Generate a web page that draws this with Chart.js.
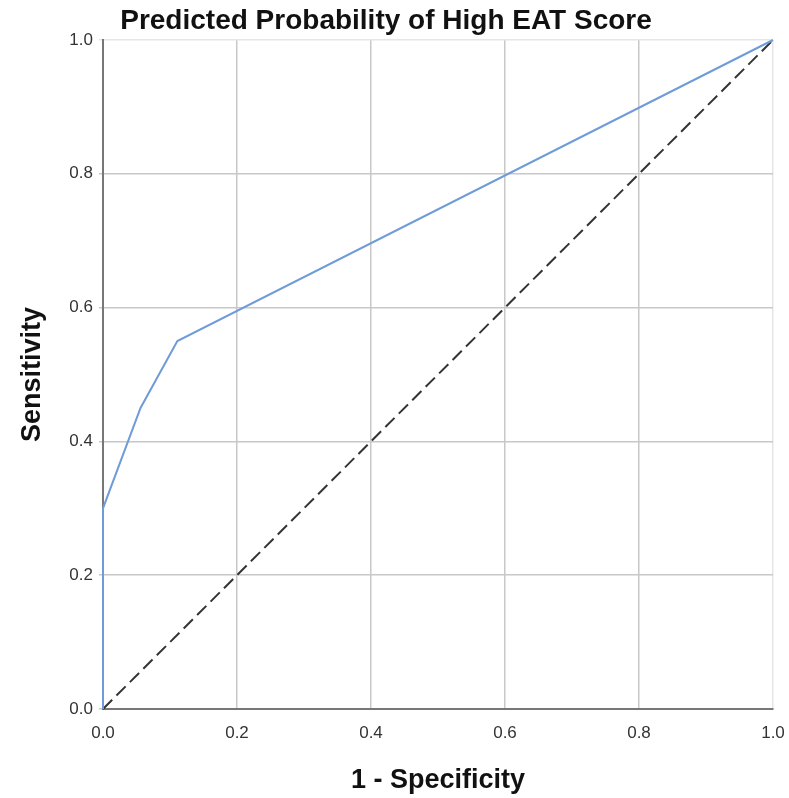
<!DOCTYPE html>
<html>
<head>
<meta charset="utf-8">
<script src="https://cdn.jsdelivr.net/npm/chart.js@4/dist/chart.umd.min.js"></script>
<style>
  html, body { margin: 0; padding: 0; background: #fff; }
  #roc { display: block; }
</style>
</head>
<body>
<canvas id="roc" width="789" height="798"></canvas>
<script>
// ROC curve points (1 - specificity, sensitivity)
const fpr = [0, 0, 0.056, 0.111, 1];
const tpr = [0, 0.30, 0.45, 0.55, 1];
// reference diagonal
const refX = [0, 1];
const refY = [0, 1];
const tickValues = [0, 0.2, 0.4, 0.6, 0.8, 1.0];

const chartTitle = 'Predicted Probability of High EAT Score';
const FONT = '"Liberation Sans", Arial, sans-serif';

// Draw the title a bit left of the plot centre like the original
const titlePlugin = {
  id: 'titleText',
  afterDraw(chart) {
    const ctx = chart.ctx;
    ctx.save();
    ctx.font = 'bold 28px ' + FONT;
    ctx.fillStyle = '#111';
    ctx.textAlign = 'center';
    ctx.textBaseline = 'middle';
    ctx.fillText(chartTitle, 386, 21);
    ctx.restore();
  }
};

new Chart(document.getElementById('roc'), {
  type: 'scatter',
  data: {
    datasets: [
      {
        label: 'ROC',
        data: fpr.map((x, i) => ({ x: x, y: tpr[i] })),
        showLine: true,
        borderColor: '#6f9bd8',
        borderWidth: 2,
        pointRadius: 0,
        tension: 0,
        clip: 4
      },
      {
        label: 'Reference',
        data: refX.map((x, i) => ({ x: x, y: refY[i] })),
        showLine: true,
        borderColor: '#333',
        borderWidth: 2,
        borderDash: [13, 6],
        pointRadius: 0,
        clip: 4
      }
    ]
  },
  options: {
    responsive: false,
    animation: false,
    layout: { padding: { left: 0, right: 16, top: 40, bottom: 0 } },
    plugins: {
      legend: { display: false },
      tooltip: { enabled: false },
      title: { display: false }
    },
    scales: {
      x: {
        type: 'linear',
        min: 0,
        max: 1,
        afterBuildTicks: axis => { axis.ticks = tickValues.map(v => ({ value: v })); },
        afterFit: axis => {
          axis.height = 89;
          axis.paddingLeft = 0;
          axis.paddingRight = 0;
        },
        grid: {
          color: ctx => ctx.tick && ctx.tick.value === 1 ? '#e6e6e6' : '#c8c8c8',
          lineWidth: 1.5,
          drawTicks: false
        },
        border: { color: '#777', width: 2 },
        ticks: {
          padding: 14,
          color: '#333',
          font: { family: FONT, size: 17 },
          callback: v => v.toFixed(1)
        },
        title: {
          display: true,
          text: '1 - Specificity',
          color: '#111',
          font: { family: FONT, size: 27, weight: 'bold' },
          padding: { top: 0, bottom: 1 }
        }
      },
      y: {
        type: 'linear',
        min: 0,
        max: 1,
        afterBuildTicks: axis => { axis.ticks = tickValues.map(v => ({ value: v })); },
        afterFit: axis => {
          axis.width = 103;
          axis.paddingTop = 0;
          axis.paddingBottom = 0;
        },
        grid: {
          color: ctx => ctx.tick && ctx.tick.value === 1 ? '#e6e6e6' : '#c8c8c8',
          lineWidth: 1.5,
          tickLength: 4
        },
        border: { color: '#777', width: 2 },
        ticks: {
          padding: 6,
          color: '#333',
          font: { family: FONT, size: 17 },
          callback: v => v.toFixed(1)
        },
        title: {
          display: true,
          text: 'Sensitivity',
          color: '#111',
          font: { family: FONT, size: 27, weight: 'bold' },
          padding: { top: 16, bottom: 0 }
        }
      }
    }
  },
  plugins: [titlePlugin]
});
</script>
</body>
</html>
